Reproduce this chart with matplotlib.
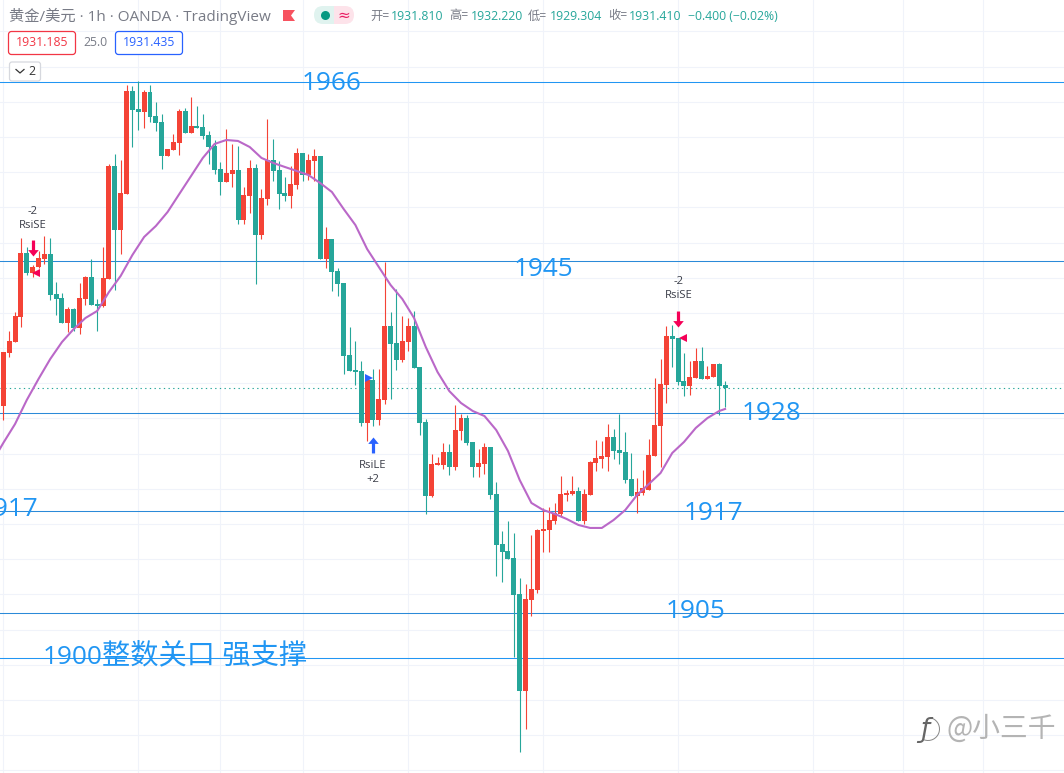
import matplotlib
matplotlib.use('Agg')
import matplotlib.pyplot as plt
import numpy as np
from matplotlib.patches import Rectangle, FancyBboxPatch, Wedge, Polygon
from matplotlib.path import Path

plt.rcParams['font.family'] = ['Open Sans', 'Noto Sans CJK SC', 'DejaVu Sans']

# hourly candles
opens = [1929.42,1935.44,1936.69,1939.53,1946.81,1944.54,1945.21,1946.13,1946.70,1942.15,
         1941.69,1938.85,1940.45,1938.28,1941.58,1944.08,1941.01,1940.79,1943.85,1956.70,
         1949.42,1953.52,1965.22,1963.17,1962.83,1965.10,1962.38,1961.69,1957.83,1958.51,
         1959.31,1962.95,1960.45,1961.24,1961.13,1960.22,1958.96,1956.35,1954.87,1955.79,
         1956.24,1950.56,1953.29,1956.47,1948.85,1952.94,1957.38,1956.24,1953.63,1953.29,
         1954.53,1958.17,1955.67,1957.27,1957.83,1946.13,1948.40,1944.77,1943.40,1935.21,
         1933.51,1933.40,1927.49,1932.37,1927.83,1930.10,1938.51,1936.58,1934.65,1936.69,
         1938.51,1933.85,1927.60,1919.19,1922.71,1922.71,1924.19,1922.49,1926.57,1928.05,
         1925.33,1922.49,1922.83,1924.76,1919.42,1913.74,1912.94,1912.15,1908.06,1897.03,
         1907.37,1908.51,1915.22,1915.33,1916.35,1917.15,1919.30,1919.42,1919.76,1916.35,
         1919.30,1922.94,1923.40,1923.62,1925.90,1924.42,1924.19,1921.12,1919.19,1919.53,
         1919.87,1923.74,1927.14,1931.80,1937.38,1937.15,1932.26,1931.69,1932.60,1934.54,
         1932.49,1932.71,1934.19,1931.81]
highs = [1935.55,1937.95,1940.10,1948.51,1947.49,1945.44,1947.04,1948.74,1948.51,1943.51,
         1942.26,1940.67,1940.56,1943.40,1944.20,1946.13,1941.58,1947.49,1956.93,1958.06,
         1957.38,1965.90,1965.79,1966.36,1965.33,1965.90,1963.97,1962.61,1958.62,1960.34,
         1963.17,1963.29,1964.54,1963.52,1962.61,1960.67,1959.65,1957.15,1960.90,1959.20,
         1958.96,1954.30,1957.38,1956.93,1954.08,1962.04,1959.76,1957.27,1955.44,1956.70,
         1958.74,1958.17,1958.06,1958.62,1957.83,1949.76,1948.40,1945.10,1943.40,1938.39,
         1936.81,1934.54,1932.37,1933.62,1933.62,1945.78,1940.10,1942.71,1939.65,1939.42,
         1940.22,1933.85,1927.94,1923.96,1923.62,1925.22,1925.11,1929.53,1928.51,1928.39,
         1925.33,1924.53,1925.22,1924.76,1920.78,1915.22,1916.35,1914.99,1909.87,1909.19,
         1914.76,1915.44,1917.83,1917.94,1918.40,1921.47,1919.87,1921.47,1920.23,1919.98,
         1923.17,1925.56,1925.45,1927.37,1926.81,1928.51,1926.46,1924.08,1921.24,1922.15,
         1925.67,1932.60,1934.76,1938.51,1938.62,1937.15,1935.44,1934.54,1936.01,1936.12,
         1933.97,1934.19,1934.31,1932.22]
lows = [1927.83,1934.99,1936.69,1938.39,1944.31,1944.08,1945.10,1945.56,1941.47,1939.76,
        1938.85,1937.83,1937.95,1937.61,1940.90,1940.90,1937.95,1940.67,1943.85,1942.60,
        1946.70,1953.52,1958.85,1960.79,1961.02,1961.69,1960.67,1956.35,1957.83,1958.51,
        1957.95,1960.45,1960.45,1961.02,1959.76,1956.93,1955.79,1953.40,1954.87,1954.30,
        1950.11,1950.11,1951.36,1943.29,1948.40,1952.26,1954.99,1951.81,1952.72,1951.92,
        1954.08,1954.99,1955.10,1954.99,1946.13,1945.10,1942.49,1941.92,1933.06,1933.40,
        1931.80,1927.14,1925.45,1927.14,1927.26,1929.65,1930.21,1933.51,1934.42,1935.67,
        1933.74,1926.12,1917.15,1919.08,1922.71,1922.26,1921.58,1922.15,1925.56,1924.99,
        1921.35,1921.35,1921.70,1918.85,1910.10,1909.42,1912.03,1900.90,1890.10,1892.72,
        1905.56,1908.17,1912.82,1912.82,1916.01,1916.92,1918.62,1919.30,1916.35,1916.01,
        1919.30,1922.03,1922.37,1922.03,1923.40,1922.83,1920.67,1919.19,1917.26,1919.30,
        1919.87,1923.74,1922.49,1929.76,1933.85,1931.80,1930.56,1930.67,1932.60,1932.49,
        1932.49,1932.71,1928.39,1929.30]
closes = [1935.55,1936.81,1939.65,1946.81,1944.54,1945.21,1946.24,1946.70,1942.03,1941.58,
          1938.85,1940.45,1938.28,1941.69,1944.08,1940.90,1940.79,1943.97,1956.70,1949.42,
          1953.63,1965.22,1963.06,1962.83,1965.10,1962.26,1961.58,1957.83,1958.62,1959.42,
          1962.95,1960.45,1961.24,1961.02,1960.11,1958.85,1956.24,1954.87,1955.90,1956.24,
          1950.56,1953.40,1956.47,1948.85,1953.06,1957.38,1956.13,1953.52,1953.29,1954.65,
          1958.17,1955.67,1957.38,1957.83,1946.13,1948.40,1944.65,1943.29,1935.10,1933.40,
          1933.28,1927.49,1932.37,1927.83,1930.21,1938.51,1936.47,1934.65,1936.81,1938.51,
          1933.74,1927.49,1919.19,1922.83,1922.83,1924.19,1922.49,1926.69,1928.05,1925.22,
          1922.49,1922.94,1924.76,1919.30,1913.62,1912.82,1912.03,1907.94,1897.03,1907.49,
          1908.62,1915.33,1915.44,1916.46,1917.26,1919.42,1919.53,1919.76,1916.35,1919.42,
          1923.05,1923.51,1923.74,1925.90,1924.31,1924.08,1921.01,1919.19,1919.65,1920.10,
          1923.85,1927.26,1931.92,1937.38,1937.03,1932.15,1931.69,1932.71,1934.54,1932.49,
          1932.83,1934.19,1931.69,1931.41]

# moving average, read every second bar
ma_bars = [-1] + list(range(0, 123, 2)) + [123]
ma_vals = [1924.08,1925.22,1927.37,1930.10,1932.49,1934.76,1936.69,1938.17,1939.42,1940.22,1942.37,
           1944.20,1946.58,1948.63,1949.88,1951.47,1953.52,1955.56,1957.61,1959.20,1959.65,
           1959.54,1958.85,1957.61,1957.04,1956.58,1956.13,1955.67,1954.76,1953.74,1951.81,
           1949.99,1947.26,1945.21,1943.17,1941.58,1939.42,1936.12,1933.28,1931.12,1929.76,
           1928.85,1928.28,1926.69,1924.31,1921.01,1918.40,1917.60,1917.15,1916.58,1915.90,
           1915.56,1915.56,1916.46,1917.60,1919.30,1920.55,1921.80,1924.08,1925.33,1926.92,
           1928.05,1928.85,1929.08]

level_prices = [1966.25, 1945.92, 1928.63, 1917.49, 1905.90, 1900.78]
level_colors = ['#2196f3', '#2b8ad8', '#2b8ad8', '#2b8ad8', '#2b8ad8', '#2196f3']
grid_bars = [0, 23, 37, 51, 69, 92, 115, 138, 153.3, 167]
last_price = 1931.41

W, H = 1064, 773
UP = '#f44336'
DOWN = '#26a69a'
GREY = '#787b86'
LABEL = '#2196f3'

fig = plt.figure(figsize=(W / 100, H / 100), dpi=100)
ax = fig.add_axes([0, 0, 1, 1])
ax.set_xlim(-0.5624, 180.76)
ax.set_ylim(1887.71, 1975.56)
ax.axis('off')

# px helper for the overlay stuff, header and labels
def fx(x):
    return x / W

def fy(y):
    return 1 - y / H

# grid
for p in np.arange(1888, 1976, 4):
    ax.axhline(p, color='#f0f3fa', lw=0.8, zorder=1)
for b in grid_bars:
    ax.axvline(b, color='#f0f3fa', lw=0.8, zorder=1)

# horizontal levels
for p, c in zip(level_prices, level_colors):
    ax.axhline(p, color=c, lw=0.75, zorder=2)
ax.axhline(last_price, color=DOWN, lw=0.8, ls=(0, (1.2, 3)), zorder=2)

# candles
bars = np.arange(len(opens))
opens = np.array(opens)
closes = np.array(closes)
colors = [UP if c >= o else DOWN for o, c in zip(opens, closes)]
ax.vlines(bars, lows, highs, colors=colors, lw=0.8, zorder=3)
body = np.maximum(np.abs(closes - opens), 0.22)
ax.bar(bars, body, bottom=np.minimum(opens, closes), width=0.85, color=colors, lw=0, zorder=4)

# ma
ax.plot(ma_bars, ma_vals, color='#ba68c8', lw=1.5, zorder=5, solid_joinstyle='round')

# signal arrows, tip sits on the price
down_arrow = Path([(-0.1, 1), (0.1, 1), (0.1, 0.4), (0.33, 0.4), (0, 0), (-0.33, 0.4), (-0.1, 0.4), (-0.1, 1)])
up_arrow = Path([(-0.1, -1), (0.1, -1), (0.1, -0.4), (0.33, -0.4), (0, 0), (-0.33, -0.4), (-0.1, -0.4), (-0.1, -1)])
ax.plot([5, 115], [1946.5, 1938.4], marker=down_arrow, ms=23, color='#f50057', lw=0, mew=0, zorder=6)
ax.plot([63], [1925.9], marker=up_arrow, ms=23, color='#2962ff', lw=0, mew=0, zorder=6)
ax.plot([5.6, 115.8], [1944.5, 1937.1], marker='<', ms=5.5, color='#f50057', lw=0, mew=0, zorder=6)
ax.plot([62.4], [1932.6], marker='>', ms=5.5, color='#2962ff', lw=0, mew=0, zorder=6)

sig_kw = dict(ha='center', va='center', fontsize=8.1, color='#3a3d48', zorder=7)
fig.text(fx(32.5), fy(211), '-2', **sig_kw)
fig.text(fx(32.5), fy(225), 'RsiSE', **sig_kw)
fig.text(fx(678.5), fy(282), '-2', **sig_kw)
fig.text(fx(678.5), fy(296), 'RsiSE', **sig_kw)
fig.text(fx(373), fy(465), 'RsiLE', **sig_kw)
fig.text(fx(373), fy(479), '+2', **sig_kw)

# drawn labels
lab_kw = dict(color=LABEL, fontsize=18.8, va='center', ha='left', zorder=8)
fig.text(fx(302), fy(84), '1966', **lab_kw)
fig.text(fx(514), fy(269), '1945', **lab_kw)
fig.text(fx(742), fy(414), '1928', **lab_kw)
fig.text(fx(-21), fy(510), '1917', **lab_kw)
fig.text(fx(684), fy(514), '1917', **lab_kw)
fig.text(fx(666), fy(611), '1905', **lab_kw)
fig.text(fx(43), fy(657), '1900', **lab_kw)
fig.text(fx(102), fy(656), '整数关口 强支撑', color=LABEL, fontsize=20.3, va='center', ha='left', zorder=8)

# header, all on an overlay in pixel coords
overlay = fig.add_axes([0, 0, 1, 1], zorder=9)
overlay.set_xlim(0, W)
overlay.set_ylim(H, 0)
overlay.axis('off')
overlay.text(9, 16, '黄金/美元 · 1h · OANDA · TradingView', fontsize=11, color=GREY, va='center')
overlay.add_patch(Polygon([[283, 10], [295, 10], [291, 15.5], [295, 21], [283, 21]], color='#f7525f', lw=0))
overlay.add_patch(FancyBboxPatch((314, 6), 28, 18, boxstyle='round,pad=0,rounding_size=9', fc='#e0f3ef', ec='none'))
overlay.add_patch(FancyBboxPatch((326, 6), 28, 18, boxstyle='round,pad=0,rounding_size=9', fc='#fde3ea', ec='none'))
overlay.add_patch(Rectangle((326, 6), 8, 18, fc='#e0f3ef', ec='none'))
overlay.plot([325], [15], marker='o', ms=6.5, color='#089981', mew=0)
overlay.text(344, 15, '≈', fontsize=11, color='#e91e63', ha='center', va='center', family='DejaVu Sans')

ohlc_parts = [(370, '开=', GREY), (391, '1931.810', DOWN), (449, '高=', GREY), (471, '1932.220', DOWN),
              (528, '低=', GREY), (550, '1929.304', DOWN), (608, '收=', GREY), (629, '1931.410', DOWN),
              (688, '−0.400 (−0.02%)', DOWN)]
for x, s, c in ohlc_parts:
    overlay.text(x, 16, s, fontsize=8.8, color=c, va='center', ha='left')

# bid / ask boxes
overlay.add_patch(FancyBboxPatch((8.5, 31.5), 67, 23, boxstyle='round,pad=0,rounding_size=3', fc='white', ec='#f23645', lw=0.9))
overlay.add_patch(FancyBboxPatch((115.5, 31.5), 67, 23, boxstyle='round,pad=0,rounding_size=3', fc='white', ec='#2962ff', lw=0.9))
overlay.text(42, 43, '1931.185', fontsize=8.8, color='#f23645', ha='center', va='center')
overlay.text(149, 43, '1931.435', fontsize=8.8, color='#2962ff', ha='center', va='center')
overlay.text(95.5, 43, '25.0', fontsize=8.8, color=GREY, ha='center', va='center')
overlay.add_patch(FancyBboxPatch((9.5, 62), 31, 19, boxstyle='round,pad=0,rounding_size=2.5', fc='white', ec='#d6d8de', lw=0.9))
overlay.plot([16, 20, 24], [69.5, 73, 69.5], color='#333', lw=0.9)
overlay.text(32, 71.5, '2', fontsize=8.8, color='#333', ha='center', va='center')

# watermark
overlay.text(925, 730, 'ƒ', fontsize=19, color='#666666', ha='center', va='center', style='italic', family='DejaVu Sans')
overlay.add_patch(Wedge((928, 729), 12, 290, 110, width=1, fc='#888888', ec='none'))
overlay.text(946, 729, '@小三千', fontsize=20, color='#b4b4b4', ha='left', va='center', family=['Noto Sans CJK SC', 'DejaVu Sans'])

fig.savefig('out.png', dpi=100)
